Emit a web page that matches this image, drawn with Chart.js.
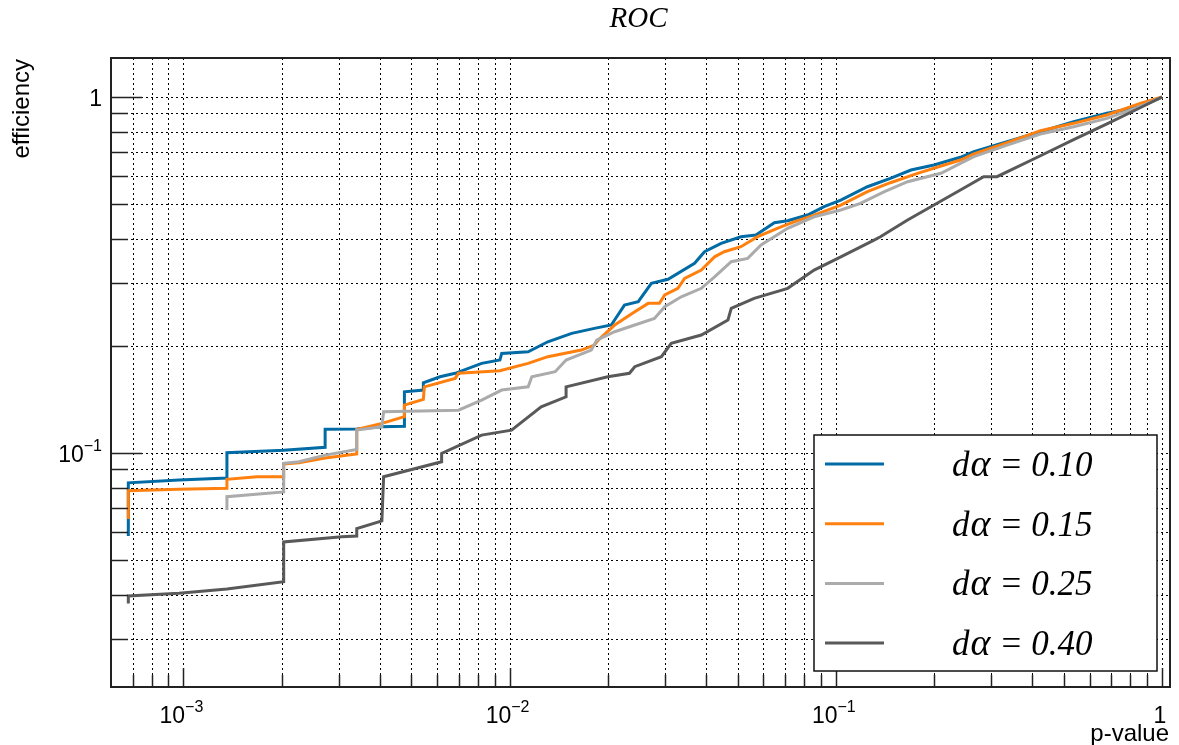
<!DOCTYPE html>
<html>
<head>
<meta charset="utf-8">
<title>ROC</title>
<script src="https://cdn.jsdelivr.net/npm/chart.js@4.4.1/dist/chart.umd.min.js"></script>
<style>
  html, body { margin: 0; padding: 0; background: #fff; }
  #wrap { width: 1179px; height: 745px; position: relative; }
</style>
</head>
<body>
<div id="wrap"><canvas id="roc"></canvas></div>
<script>
(function () {
  'use strict';

  // axis ranges (log-log)
  const X_MIN = 6.1e-4, X_MAX = 1.058;
  const Y_MIN = 0.02203, Y_MAX = 1.287;

  // labelled decades
  const X_LABEL_VALUES = [1e-3, 1e-2, 1e-1, 1];
  const X_LABELS = [['10', '\u22123'], ['10', '\u22122'], ['10', '\u22121'], ['1', '']];
  const Y_LABEL_VALUES = [1e-1, 1];
  const Y_LABELS = [['10', '\u22121'], ['1', '']];

  const SERIES_NAMES = ['d\u03b1 = 0.10', 'd\u03b1 = 0.15', 'd\u03b1 = 0.25', 'd\u03b1 = 0.40'];
  const SERIES_COLORS = ['#006BA4', '#FF800E', '#ABABAB', '#595959'];

  // dα = 0.10
  const P_010 = [6.78e-4, 6.78e-4, 9.70e-4, 1.36e-3, 1.36e-3, 2.03e-3, 2.72e-3, 2.72e-3, 3.40e-3, 4.06e-3,
    4.76e-3, 4.76e-3, 5.44e-3, 5.44e-3, 6.12e-3, 6.81e-3, 8.21e-3, 9.34e-3, 9.46e-3, 1.14e-2,
    1.31e-2, 1.55e-2, 1.82e-2, 2.05e-2, 2.25e-2, 2.48e-2, 2.72e-2, 3.06e-2, 3.69e-2, 3.96e-2,
    4.45e-2, 5.12e-2, 5.69e-2, 6.48e-2, 7.12e-2, 8.19e-2, 9.21e-2, 0.1036, 0.125, 0.147,
    0.170, 0.200, 0.241, 0.265, 0.335, 0.424, 0.536, 0.678, 0.857, 1];
  const EFF_010 = [0.0585, 0.0825, 0.0840, 0.0851, 0.1002, 0.1019, 0.1038, 0.1166, 0.1169, 0.1186,
    0.119, 0.1486, 0.1503, 0.1575, 0.1638, 0.1675, 0.1786, 0.1825, 0.1905, 0.1926,
    0.2054, 0.2169, 0.2240, 0.2289, 0.2604, 0.2661, 0.2997, 0.3076, 0.3411, 0.3676,
    0.3882, 0.4052, 0.4097, 0.4434, 0.4492, 0.4661, 0.4919, 0.5136, 0.5598, 0.5910,
    0.6236, 0.6442, 0.6771, 0.7021, 0.7489, 0.7990, 0.8524, 0.9000, 0.9392, 1];

  // dα = 0.15
  const P_015 = [6.78e-4, 6.78e-4, 9.70e-4, 1.36e-3, 1.36e-3, 1.68e-3, 2.03e-3, 2.03e-3, 2.26e-3, 2.72e-3,
    3.40e-3, 3.40e-3, 4.06e-3, 4.76e-3, 4.76e-3, 5.44e-3, 5.48e-3, 6.81e-3, 6.97e-3, 9.34e-3,
    1.14e-2, 1.31e-2, 1.66e-2, 1.82e-2, 1.87e-2, 2.10e-2, 2.42e-2, 2.66e-2, 2.88e-2, 2.99e-2,
    3.28e-2, 3.44e-2, 3.87e-2, 4.25e-2, 4.55e-2, 5.12e-2, 5.76e-2, 6.79e-2, 7.45e-2, 8.58e-2,
    0.1036, 0.125, 0.147, 0.178, 0.241, 0.265, 0.335, 0.424, 0.536, 0.678, 0.857, 1];
  const EFF_015 = [0.0653, 0.0784, 0.0791, 0.0796, 0.0844, 0.0858, 0.0858, 0.0931, 0.0939, 0.0968,
    0.0994, 0.1166, 0.1212, 0.1265, 0.1364, 0.1415, 0.1535, 0.1621, 0.1675, 0.1703,
    0.1786, 0.1865, 0.1947, 0.2011, 0.2077, 0.2289, 0.2493, 0.2633, 0.2633, 0.2779,
    0.2902, 0.3096, 0.3266, 0.3558, 0.3676, 0.3798, 0.4052, 0.4321, 0.4462, 0.4661,
    0.4973, 0.5420, 0.5745, 0.6105, 0.6653, 0.6917, 0.7443, 0.8043, 0.8435, 0.8901, 0.9601, 1];

  // dα = 0.25
  const P_025 = [1.36e-3, 1.36e-3, 2.03e-3, 2.03e-3, 2.26e-3, 2.72e-3, 3.40e-3, 3.40e-3, 4.06e-3, 4.11e-3,
    6.97e-3, 8.21e-3, 9.46e-3, 1.14e-2, 1.17e-2, 1.38e-2, 1.49e-2, 1.78e-2, 1.85e-2, 2.10e-2,
    2.42e-2, 2.78e-2, 2.99e-2, 3.36e-2, 3.87e-2, 4.25e-2, 4.78e-2, 5.37e-2, 5.90e-2, 7.12e-2,
    8.58e-2, 0.1036, 0.119, 0.141, 0.166, 0.210, 0.241, 0.265, 0.335, 0.424,
    0.536, 0.678, 0.857, 1];
  const EFF_025 = [0.0692, 0.0754, 0.0778, 0.0936, 0.0945, 0.0987, 0.1024, 0.1160, 0.1186, 0.1306,
    0.1320, 0.1409, 0.1503, 0.1535, 0.1638, 0.1692, 0.1825, 0.1947, 0.2077, 0.2192,
    0.2289, 0.2389, 0.2576, 0.2748, 0.2902, 0.3127, 0.3446, 0.3522, 0.3840, 0.4277,
    0.4610, 0.4816, 0.5028, 0.5420, 0.5782, 0.6105, 0.6513, 0.6798, 0.7330, 0.787,
    0.825, 0.871, 0.9392, 1];

  // dα = 0.40
  const P_040 = [6.78e-4, 6.78e-4, 9.70e-4, 1.36e-3, 2.03e-3, 2.03e-3, 3.06e-3, 3.40e-3, 3.40e-3, 4.06e-3,
    4.11e-3, 6.19e-3, 6.19e-3, 8.21e-3, 1.014e-2, 1.25e-2, 1.49e-2, 1.49e-2, 2.00e-2, 2.33e-2,
    2.42e-2, 2.92e-2, 3.13e-2, 3.87e-2, 4.67e-2, 4.78e-2, 5.62e-2, 7.12e-2, 8.58e-2, 0.1036,
    0.131, 0.137, 0.166, 0.200, 0.241, 0.284, 0.312, 0.424, 0.536, 0.678, 0.857, 1];
  const EFF_040 = [0.0378, 0.0397, 0.0404, 0.0415, 0.0435, 0.0563, 0.0582, 0.0585, 0.0614, 0.0645,
    0.0858, 0.0945, 0.0998, 0.1123, 0.1160, 0.1349, 0.1439, 0.1535, 0.1638, 0.1675,
    0.1748, 0.1865, 0.2033, 0.2145, 0.2363, 0.2549, 0.2720, 0.2902, 0.3266, 0.3558,
    0.3965, 0.4052, 0.4513, 0.4973, 0.5480, 0.5973, 0.5973, 0.684, 0.759, 0.841, 0.933, 1];

  const SERIES_P = [P_010, P_015, P_025, P_040];
  const SERIES_EFF = [EFF_010, EFF_015, EFF_025, EFF_040];

  const SANS = '"Liberation Sans", Arial, Helvetica, sans-serif';
  const SERIF = '"Liberation Serif", "Times New Roman", serif';

  function toPoints(xs, ys) {
    return xs.map(function (x, i) { return { x: x, y: ys[i] }; });
  }

  // every 1..9 x 10^k inside the range, ROOT-style log ticks
  function logTicks(min, max) {
    const out = [];
    for (let e = Math.floor(Math.log10(min)); e <= Math.ceil(Math.log10(max)); e++) {
      for (let m = 1; m <= 9; m++) {
        const v = m * Math.pow(10, e);
        if (v >= min * 0.9999 && v <= max * 1.0001) out.push({ v: v, major: m === 1 });
      }
    }
    return out;
  }

  function drawPowLabel(ctx, parts, x, baseline, align) {
    ctx.font = '23px ' + SANS;
    const wBase = ctx.measureText(parts[0]).width;
    ctx.font = '16px ' + SANS;
    const wSup = parts[1] ? ctx.measureText(parts[1]).width : 0;
    const total = wBase + wSup;
    const x0 = align === 'right' ? x - total : x - total / 2;
    ctx.textAlign = 'left';
    ctx.textBaseline = 'alphabetic';
    ctx.font = '23px ' + SANS;
    ctx.fillText(parts[0], x0, baseline);
    if (parts[1]) {
      ctx.font = '16px ' + SANS;
      ctx.fillText(parts[1], x0 + wBase, baseline - 11);
    }
  }

  // "dα = 0.10" laid out like TLatex: wide symbol-font alpha, spaced "="
  function drawLegendLabel(ctx, label, x, baseline) {
    const parts = label.split(' = ');
    ctx.textAlign = 'left';
    ctx.font = 'italic 35px ' + SERIF;
    ctx.fillText(parts[0].charAt(0), x, baseline);
    let cx = x + ctx.measureText(parts[0].charAt(0)).width + 1;
    ctx.font = 'italic 38px ' + SERIF;
    ctx.fillText(parts[0].slice(1), cx, baseline);
    cx += ctx.measureText(parts[0].slice(1)).width + 11;
    ctx.font = '35px ' + SERIF;
    ctx.fillText('=', cx, baseline);
    cx += ctx.measureText('=').width + 10;
    ctx.font = 'italic 35px ' + SERIF;
    ctx.fillText(parts[1], cx, baseline);
  }

  const rootFrame = {
    id: 'rootFrame',
    beforeDatasetsDraw: function (chart) {
      const ctx = chart.ctx, a = chart.chartArea;
      const xs = chart.scales.x, ys = chart.scales.y;
      ctx.save();
      ctx.strokeStyle = '#000';
      ctx.lineWidth = 1;
      ctx.setLineDash([2, 3]);
      logTicks(X_MIN, X_MAX).forEach(function (t) {
        const px = Math.round(xs.getPixelForValue(t.v)) + 0.5;
        ctx.beginPath(); ctx.moveTo(px, a.top); ctx.lineTo(px, a.bottom); ctx.stroke();
      });
      logTicks(Y_MIN, Y_MAX).forEach(function (t) {
        const py = Math.round(ys.getPixelForValue(t.v)) + 0.5;
        ctx.beginPath(); ctx.moveTo(a.left, py); ctx.lineTo(a.right, py); ctx.stroke();
      });
      ctx.restore();
    },
    afterDraw: function (chart) {
      const ctx = chart.ctx, a = chart.chartArea;
      const xs = chart.scales.x, ys = chart.scales.y;
      ctx.save();
      ctx.fillStyle = '#000';
      ctx.strokeStyle = '#222';

      // inward tick marks
      ctx.lineWidth = 1.5;
      logTicks(X_MIN, X_MAX).forEach(function (t) {
        const px = Math.round(xs.getPixelForValue(t.v)) + 0.5;
        ctx.beginPath(); ctx.moveTo(px, a.bottom); ctx.lineTo(px, a.bottom - (t.major ? 19 : 12)); ctx.stroke();
      });
      logTicks(Y_MIN, Y_MAX).forEach(function (t) {
        const py = Math.round(ys.getPixelForValue(t.v)) + 0.5;
        ctx.beginPath(); ctx.moveTo(a.left, py); ctx.lineTo(a.left + (t.major ? 31 : 17), py); ctx.stroke();
      });

      // frame
      ctx.lineWidth = 2;
      ctx.strokeRect(a.left, a.top, a.right - a.left, a.bottom - a.top);

      // tick labels
      X_LABEL_VALUES.forEach(function (v, i) {
        drawPowLabel(ctx, X_LABELS[i], xs.getPixelForValue(v) - 2, a.bottom + 36, 'center');
      });
      Y_LABEL_VALUES.forEach(function (v, i) {
        drawPowLabel(ctx, Y_LABELS[i], a.left - 9, ys.getPixelForValue(v) + 9, 'right');
      });

      // axis titles
      ctx.font = '24px ' + SANS;
      ctx.textAlign = 'right';
      ctx.textBaseline = 'alphabetic';
      ctx.fillText('p-value', a.right - 1, a.bottom + 54);
      ctx.save();
      ctx.translate(29, a.top + 1);
      ctx.rotate(-Math.PI / 2);
      ctx.fillText('efficiency', 0, 0);
      ctx.restore();

      // title
      ctx.font = 'italic 29px ' + SERIF;
      ctx.textAlign = 'center';
      ctx.fillText('ROC', (a.left + a.right) / 2 - 2, 27);

      // legend box
      const box = { l: 814, t: 435, r: 1157, b: 671 };
      ctx.fillStyle = '#fff';
      ctx.fillRect(box.l, box.t, box.r - box.l, box.b - box.t);
      ctx.lineWidth = 1.5;
      ctx.strokeStyle = '#111';
      ctx.strokeRect(box.l, box.t, box.r - box.l, box.b - box.t);
      chart.data.datasets.forEach(function (ds, i) {
        const rowY = 464 + i * 59.7;
        ctx.strokeStyle = ds.borderColor;
        ctx.lineWidth = 3;
        ctx.beginPath(); ctx.moveTo(825, rowY); ctx.lineTo(884, rowY); ctx.stroke();
        ctx.fillStyle = '#000';
        drawLegendLabel(ctx, ds.label, 952, rowY + 12);
      });
      ctx.restore();
    }
  };

  const datasets = SERIES_NAMES.map(function (name, i) {
    return {
      label: name,
      data: toPoints(SERIES_P[i], SERIES_EFF[i]),
      showLine: true,
      borderColor: SERIES_COLORS[i],
      backgroundColor: SERIES_COLORS[i],
      borderWidth: 3,
      pointRadius: 0,
      tension: 0,
      borderJoinStyle: 'miter',
      order: SERIES_NAMES.length - i
    };
  });

  new Chart(document.getElementById('roc'), {
    type: 'scatter',
    data: { datasets: datasets },
    options: {
      responsive: true,
      maintainAspectRatio: false,
      animation: false,
      layout: { padding: { left: 111, top: 58, right: 9, bottom: 58 } },
      plugins: {
        legend: { display: false },
        title: { display: false },
        tooltip: { enabled: false }
      },
      scales: {
        x: { type: 'logarithmic', min: X_MIN, max: X_MAX, display: false },
        y: { type: 'logarithmic', min: Y_MIN, max: Y_MAX, display: false }
      }
    },
    plugins: [rootFrame]
  });
})();
</script>
</body>
</html>
